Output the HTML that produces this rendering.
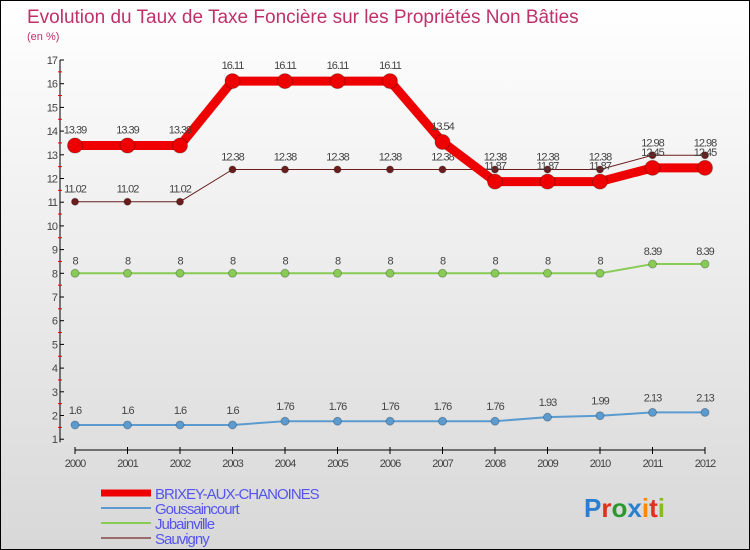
<!DOCTYPE html>
<html><head><meta charset="utf-8"><style>
body{margin:0}
#c{width:750px;height:550px;position:relative;box-sizing:border-box;border:1px solid #000;background:linear-gradient(#ffffff,#d8d8d8);font-family:"Liberation Sans",sans-serif;overflow:hidden}
</style></head><body>
<div id="c">
<svg id="s" width="748" height="548" xmlns="http://www.w3.org/2000/svg"></svg>
</div>
<script>
const years=["2000","2001","2002","2003","2004","2005","2006","2007","2008","2009","2010","2011","2012"];
const brixey=[13.39,13.39,13.39,16.11,16.11,16.11,16.11,13.54,11.87,11.87,11.87,12.45,12.45];
const gouss=[1.6,1.6,1.6,1.6,1.76,1.76,1.76,1.76,1.76,1.93,1.99,2.13,2.13];
const jubain=[8,8,8,8,8,8,8,8,8,8,8,8.39,8.39];
const sauvigny=[11.02,11.02,11.02,12.38,12.38,12.38,12.38,12.38,12.38,12.38,12.38,12.98,12.98];
const yTicks=[1,2,3,4,5,6,7,8,9,10,11,12,13,14,15,16,17];
const svg=document.getElementById('s');const NS="http://www.w3.org/2000/svg";
function X(i){return 74+i*52.5;}
function Y(v){return 59+(17-v)*23.7;}
function el(t,a,p){const e=document.createElementNS(NS,t);for(const k in a)e.setAttribute(k,a[k]);(p||svg).appendChild(e);return e;}
let t=el('text',{x:26,y:22,fill:'#c0306a','font-size':19});t.textContent="Evolution du Taux de Taxe Foncière sur les Propriétés Non Bâties";

t=el('text',{x:26,y:39,fill:'#c0306a','font-size':11});t.textContent="(en %)";

// axes
let a=el('line',{x1:59,y1:Y(17),x2:59,y2:Y(1)+3,stroke:'#000'});
a=el('line',{x1:X(0),y1:449,x2:X(12),y2:449,stroke:'#000'});
yTicks.forEach(v=>{el('line',{x1:59,y1:Y(v),x2:63,y2:Y(v),stroke:'#000'});
 if(v<17)el('line',{x1:57,y1:Y(v+0.5),x2:61,y2:Y(v+0.5),stroke:'#e00'});
 const l=el('text',{x:56,y:Y(v)+4,'text-anchor':'end','font-size':11,fill:'#444','letter-spacing':'-1'});l.textContent=v;
 });
years.forEach((y,i)=>{el('line',{x1:X(i),y1:446,x2:X(i),y2:453,stroke:'#000'});
 const l=el('text',{x:X(i),y:466,'text-anchor':'middle','font-size':11,fill:'#444','letter-spacing':'-1'});l.textContent=y;
 });
function series(vals,color,w,r,name,labelDy){
 const g=el('g',{});
 el('polyline',{points:vals.map((v,i)=>X(i)+','+Y(v)).join(' '),fill:'none',stroke:color,'stroke-width':w,'stroke-linejoin':'round'},g);
 vals.forEach((v,i)=>{const c=el('circle',{cx:X(i),cy:Y(v),r:r,fill:color,stroke:'rgba(0,0,0,0.25)'},g);
  
  const l=el('text',{x:X(i),y:Y(v)+labelDy,'text-anchor':'middle','font-size':11,fill:'#444','letter-spacing':'-1'},g);l.textContent=v;});
}
series(gouss,'#5b9bd0',2,4,'series-goussaincourt',-11);
series(jubain,'#88cc55',2,4,'series-jubainville',-9);
series(sauvigny,'#6b1c1c',1,3.5,'series-sauvigny',-9);
series(brixey,'#ee0000',9,7.5,'series-brixey',-12);
const leg=[["BRIXEY-AUX-CHANOINES","#ee0000",7],["Goussaincourt","#5b9bd0",2],["Jubainville","#88cc55",2],["Sauvigny","#9a6b6b",2]];
leg.forEach((d,i)=>{const g=el('g',{});
 const y=492+i*15;el('line',{x1:100,y1:y,x2:150,y2:y,stroke:d[1],'stroke-width':d[2]},g);
 const l=el('text',{x:154,y:y+6,'font-size':15,fill:'#5555ee','letter-spacing':'-1'},g);l.textContent=d[0];});
const lg=el('text',{x:583,y:516,'font-size':26,'font-weight':'bold'});
[["P","#2a7fd0"],["r","#e03020"],["o","#2a9a30"],["x","#2a7fd0"],["i","#ff8800"],["t","#e03020"],["i","#88bb22"]].forEach(c=>{const s=el('tspan',{fill:c[1]},lg);s.textContent=c[0];});
</script>
</body></html>
